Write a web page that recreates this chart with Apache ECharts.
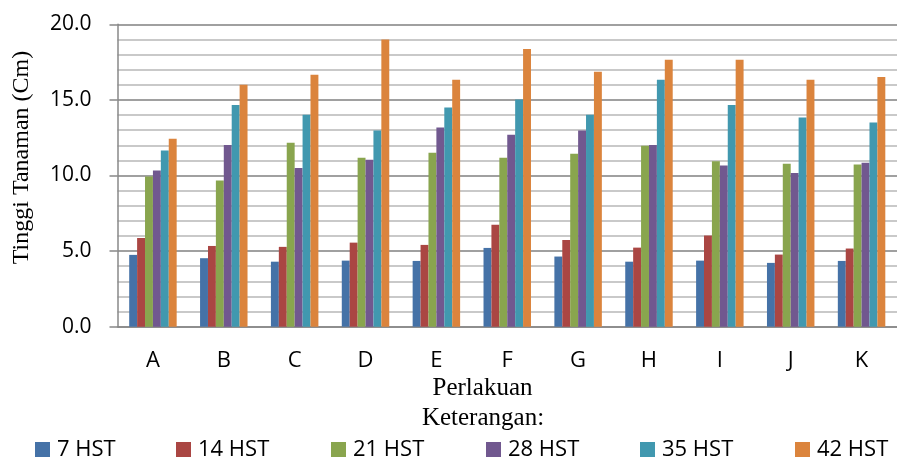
<!DOCTYPE html>
<html>
<head>
<meta charset="utf-8">
<script src="https://cdn.jsdelivr.net/npm/echarts@6/dist/echarts.min.js"></script>
<style>html,body{margin:0;padding:0;background:#fff}#c{width:897px;height:460px}</style>
</head>
<body>
<div id="c"></div>
<script>
var categories = ['A','B','C','D','E','F','G','H','I','J','K'];
var seriesNames = ['7 HST','14 HST','21 HST','28 HST','35 HST','42 HST'];
var s7  = [4.75,4.53,4.30,4.37,4.35,5.21,4.64,4.30,4.37,4.22,4.35];
var s14 = [5.87,5.34,5.28,5.56,5.41,6.75,5.74,5.23,6.03,4.77,5.17];
var s21 = [9.93,9.67,12.17,11.17,11.50,11.17,11.44,11.97,10.95,10.77,10.73];
var s28 = [10.33,12.01,10.49,11.04,13.18,12.70,12.98,12.01,10.66,10.16,10.84];
var s35 = [11.66,14.66,14.02,12.98,14.50,15.03,14.02,16.34,14.66,13.84,13.51];
var s42 = [12.43,16.00,16.67,19.00,16.34,18.37,16.87,17.66,17.66,16.34,16.52];
var yTicks = [0,5,10,15,20];
var colors = ['#4572A7','#AA4643','#89A54E','#71588F','#4198AF','#DB843D'];
var allData = [s7,s14,s21,s28,s35,s42];
var legendLeft = [35,176,331,486,640,795];

var chart = echarts.init(document.getElementById('c'));
var sans = "'Open Sans', sans-serif";
var serif = "'Liberation Serif', 'Times New Roman', serif";

var series = allData.map(function(d,i){
  return {
    name: seriesNames[i], type:'bar', data:d,
    barGap:'0%', barCategoryGap:'33%',
    itemStyle:{color:colors[i]},
    animation:false
  };
});
var legends = seriesNames.map(function(n,i){
  return {
    data:[n], left:legendLeft[i], top:438.5, padding:0, orient:'horizontal',
    icon:'rect', itemWidth:15, itemHeight:15, itemGap:0,
    textStyle:{fontFamily:sans, fontSize:22, color:'#000', padding:[0,0,0,2]},
    selectedMode:false
  };
});

chart.setOption({
  animation:false,
  color: colors,
  grid:{left:117.5, right:-8.3, top:24.3, bottom:133.3, containLabel:false},
  legend: legends,
  xAxis:{
    type:'category', data:categories,
    axisLine:{show:true, lineStyle:{color:'#888', width:1.5}},
    axisTick:{show:false},
    axisLabel:{interval:0, margin:23, fontFamily:sans, fontSize:22, color:'#000'},
    splitLine:{show:false}
  },
  yAxis:{
    type:'value', min:yTicks[0], max:yTicks[yTicks.length-1], interval:5,
    axisLine:{show:true, lineStyle:{color:'#888', width:1.5}},
    axisTick:{show:true, length:8, lineStyle:{color:'#888', width:1.5}},
    axisLabel:{margin:26, fontFamily:sans, fontSize:21, color:'#000',
      formatter:function(v){return v.toFixed(1);}},
    splitLine:{show:true, lineStyle:{color:'#808080', width:1.5}},
    minorTick:{show:false, splitNumber:5},
    minorSplitLine:{show:true, lineStyle:{color:'#b8b8b8', width:1.5}}
  },
  graphic:[
    {type:'text', x:22, y:157.5, rotation:Math.PI/2,
      style:{text:'Tinggi Tanaman (Cm)', fontFamily:serif, fontSize:24, fill:'#000', textAlign:'center', textVerticalAlign:'middle'}},
    {type:'text', x:482.5, y:388.5,
      style:{text:'Perlakuan', fontFamily:serif, fontSize:25, fill:'#000', textAlign:'center', textVerticalAlign:'middle'}},
    {type:'text', x:483, y:418.5,
      style:{text:'Keterangan:', fontFamily:serif, fontSize:25, fill:'#000', textAlign:'center', textVerticalAlign:'middle'}}
  ],
  series: series
});
</script>
</body>
</html>
